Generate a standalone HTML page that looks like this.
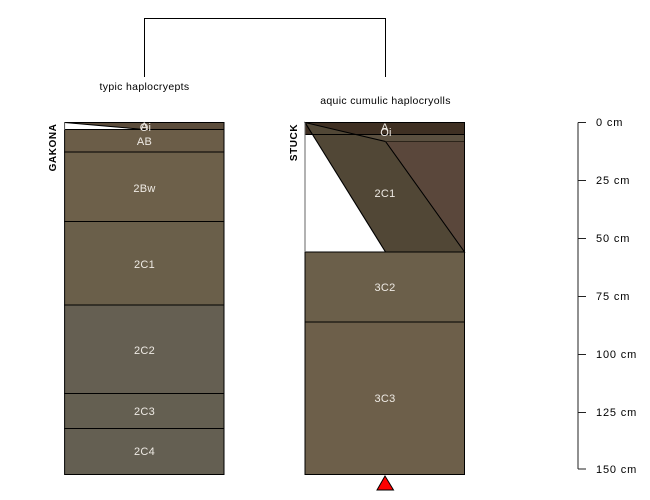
<!DOCTYPE html>
<html>
<head>
<meta charset="utf-8">
<style>
html,body{margin:0;padding:0;background:#fff;width:650px;height:500px;overflow:hidden}
svg{display:block}
text{font-family:"Liberation Sans",sans-serif;font-size:10px}
.w{fill:#eeeae4;text-anchor:middle;font-size:11px;letter-spacing:.3px}
.k{fill:#000}
.m{text-anchor:middle;letter-spacing:.56px}
.n{text-anchor:middle;font-size:10.500px;letter-spacing:.33px}
.s{font-size:11px;letter-spacing:.85px}
</style>
</head>
<body>
<svg width="650" height="500" viewBox="0 0 650 500" xmlns="http://www.w3.org/2000/svg">
<!-- dendrogram -->
<path d="M144.500 77V18.500H385.500V77" fill="none" stroke="#000" stroke-width="1"/>
<text x="144.500" y="90" class="k n">typic haplocryepts</text>
<text x="385.500" y="104" class="k n">aquic cumulic haplocryolls</text>

<!-- profile 1 -->
<g stroke="#000" stroke-width="1">
<rect x="64.600" y="122.500" width="159.400" height="7" fill="#5c4d3c"/>
<polygon points="64.600,122.500 144.500,129.500 64.600,129.500" fill="#fff" stroke="none"/>
<path d="M64.600 122.500L144.500 129.500" fill="none"/>
<rect x="64.600" y="129.500" width="159.400" height="22.500" fill="#6b5d48"/>
<rect x="64.600" y="152" width="159.400" height="69.500" fill="#6d604a"/>
<rect x="64.600" y="221.500" width="159.400" height="83.500" fill="#6a5f4a"/>
<rect x="64.600" y="305" width="159.400" height="88.500" fill="#655f52"/>
<rect x="64.600" y="393.500" width="159.400" height="35" fill="#645f51"/>
<rect x="64.600" y="428.500" width="159.400" height="46" fill="#645f52"/>
</g>
<path d="M64.600 122V130" stroke="#666" stroke-width="1" fill="none"/>
<text x="144.500" y="130" class="w">A</text>
<text x="145.500" y="131" class="w">Oi</text>
<text x="144.500" y="145" class="w">AB</text>
<text x="144.500" y="192" class="w">2Bw</text>
<text x="144.500" y="268" class="w">2C1</text>
<text x="144.500" y="354" class="w">2C2</text>
<text x="144.500" y="415" class="w">2C3</text>
<text x="144.500" y="455" class="w">2C4</text>
<text transform="translate(56,147.500) rotate(-90)" class="k m" style="font-weight:bold">GAKONA</text>

<!-- profile 2 -->
<g stroke="#000" stroke-width="1">
<rect x="305" y="122.500" width="159.500" height="12" fill="#3f3023"/>
<polygon points="305,122.500 385.500,141.500 464.500,141.500 464.500,134.500 317,134.500" fill="#4e4130" stroke="none"/>
<polygon points="358,134.500 464.500,134.500 464.500,141.500 385.500,141.500" fill="#5b5040" stroke="none"/>
<polygon points="385.500,141.500 464.500,141.500 464.500,252" fill="#5a473b"/>
<polygon points="305,122.500 385.500,141.500 464.500,252 385.500,252" fill="#514736"/>
<polygon points="305,134.500 312.500,134.500 385.500,252 305,252" fill="#fff" stroke="none"/>
<path d="M305 122.500L385.500 252" fill="none"/>
<path d="M305 134.500H464.500" fill="none"/>
<path d="M385.500 141.500H464.500" stroke="#2c241a" fill="none"/>
<rect x="305" y="252" width="159.500" height="70" fill="#6b5f4a"/>
<rect x="305" y="322" width="159.500" height="152.500" fill="#6d5f4a"/>
<path d="M464.500 122.500V252" fill="none"/>
<path d="M305 122.500V252" fill="none" stroke="#666"/>
</g>
<text x="385" y="131" class="w">A</text>
<text x="386" y="136" class="w">Oi</text>
<text x="385" y="197" class="w">2C1</text>
<text x="385" y="291" class="w">3C2</text>
<text x="385" y="402" class="w">3C3</text>
<text transform="translate(297,142.500) rotate(-90)" class="k m" style="font-weight:bold">STUCK</text>

<!-- marker -->
<polygon points="385,476 393.500,490 377,490" fill="#f00" stroke="#000" stroke-width="1"/>

<!-- scale -->
<path d="M578 122.500V469" fill="none" stroke="#222" stroke-width="1"/>
<path d="M578 122.500H586M578 180.500H586M578 238.500H586M578 296.500H586M578 354.500H586M578 412.500H586M578 469H586" stroke="#222" stroke-width="1" fill="none"/>
<text x="596" y="126" class="k s">0 cm</text>
<text x="596" y="184" class="k s">25 cm</text>
<text x="596" y="242" class="k s">50 cm</text>
<text x="596" y="300" class="k s">75 cm</text>
<text x="596" y="358" class="k s">100 cm</text>
<text x="596" y="416" class="k s">125 cm</text>
<text x="596" y="473" class="k s">150 cm</text>
</svg>
</body>
</html>
